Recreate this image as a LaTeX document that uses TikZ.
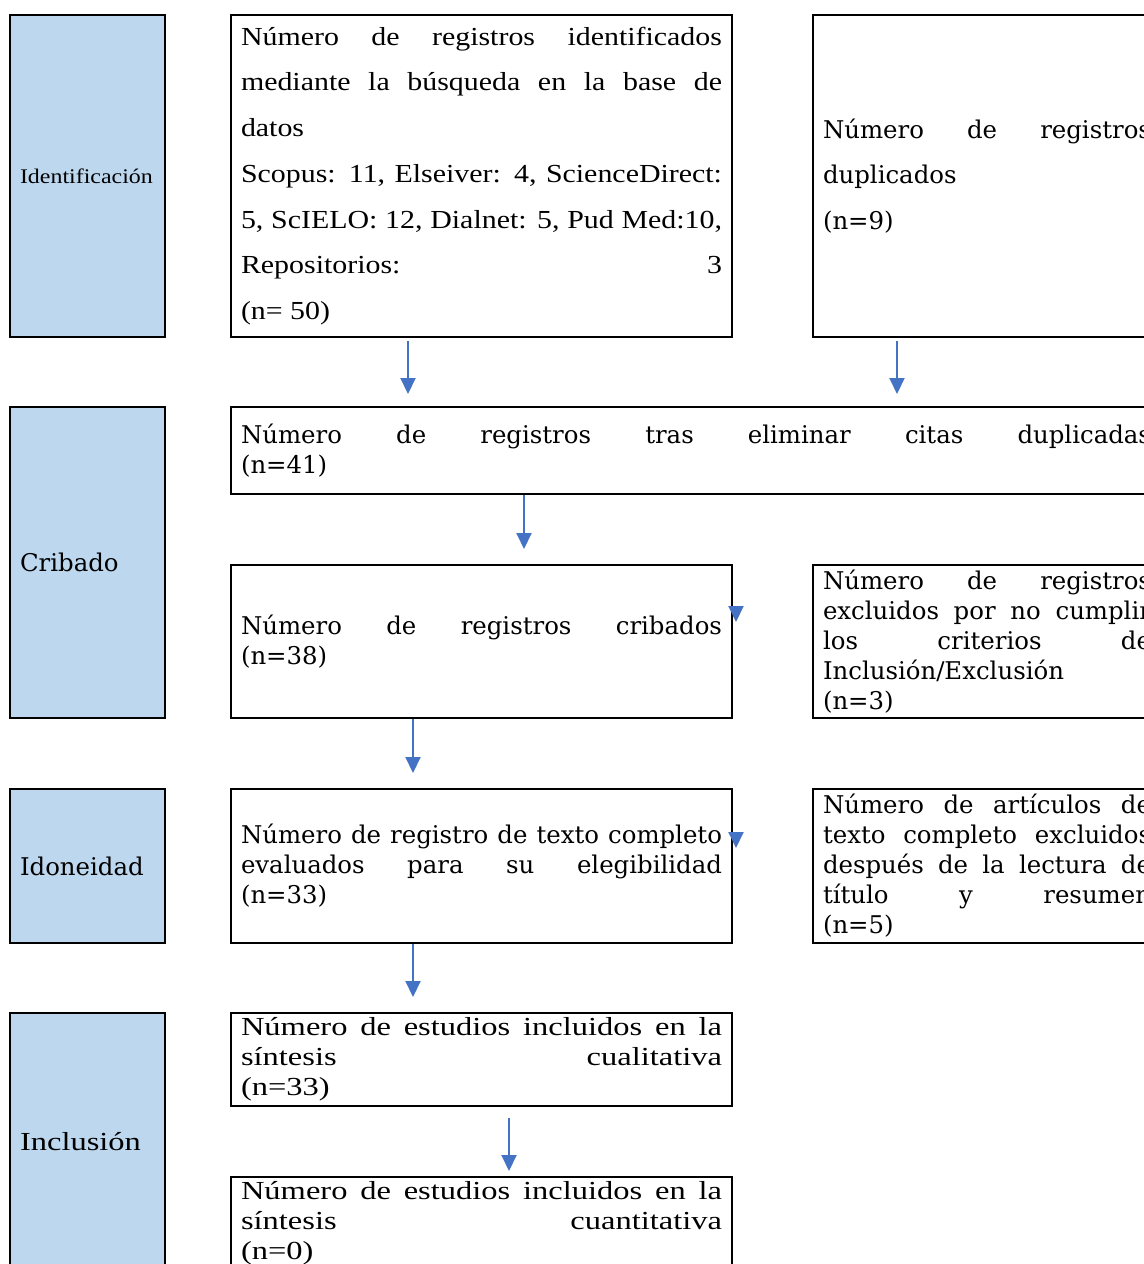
\documentclass[tikz,border=0pt]{standalone}
\usepackage{fontspec}
\setmainfont{DejaVu Serif}
\newfontfamily\narrowserif[FakeStretch=1.15]{Liberation Serif}
\newfontfamily\narrowseriflarge[FakeStretch=1.25]{Liberation Serif}
\usepackage{tikz}
\usetikzlibrary{arrows.meta,arrows}
\usetikzlibrary{positioning}

\setlength{\parindent}{0pt}
\hyphenpenalty=10000
\exhyphenpenalty=10000
\tolerance=9999
\hbadness=10000

\definecolor{phaseblue}{HTML}{BDD7EE}
\definecolor{arrowblue}{HTML}{4472C4}

\tikzset{
    phase/.style={draw, line width=1pt, fill=phaseblue, inner xsep=5pt, inner ysep=0pt, text width=67.5pt, align=left},
    stepbox/.style={draw, line width=1pt, fill=white, inner xsep=5pt, inner ysep=0pt, align=justify},
    flow/.style={draw=arrowblue, line width=1pt, -{Triangle[width=7.5pt,length=8pt]}},
    txtbook/.style={font=\fontsize{12.2}{15}\selectfont},
    txtbookdbl/.style={font=\fontsize{12.2}{22.85}\selectfont},
    txtcond/.style={font=\narrowseriflarge\fontsize{13}{15}\selectfont},
    txtconddbl/.style={font=\narrowserif\fontsize{13}{22.85}\selectfont}
}

\begin{document}
\begin{tikzpicture}[x=0.5pt,y=-0.5pt]

        \fill[white] (0,0) rectangle (1144,1264);
        \useasboundingbox (0,0) rectangle (1144,1264);
        \clip (0,0) rectangle (1144,1264);

        % fases
        \begin{scope}[every node/.style={phase}]
            \node[minimum height=161pt, font=\narrowserif\fontsize{10.4}{13}\selectfont] (ident) at (87.5,176) {Identificación\par\vspace{6pt}};
            \node[minimum height=155.5pt, txtbook] (crib) at (87.5,562.5) {Cribado};
            \node[minimum height=77pt, txtbook] (idon) at (87.5,866) {Idoneidad};
            \node[minimum height=129pt, txtcond] (incl) at (87.5,1142) {Inclusión};
        \end{scope}

        % columna central
        \begin{scope}[every node/.style={stepbox, text width=240.5pt}]
            \node[minimum height=161pt, txtconddbl] (busq) at (481.5,176)
                {Número de registros identificados\linebreak mediante la búsqueda en la base de\linebreak datos\newline Scopus: 11, Elseiver: 4, ScienceDirect:\linebreak 5, ScIELO: 12, Dialnet: 5, Pud Med:10,\linebreak Repositorios: 3\linebreak (n= 50)\par\vspace{4pt}};
            \node[minimum height=76.5pt, txtbook] (cribados) at (481.5,641.5)
                {Número de registros cribados\linebreak (n=38)};
            \node[minimum height=77pt, txtbook] (elegib) at (481.5,866)
                {Número de registro de texto completo\linebreak evaluados para su elegibilidad\linebreak (n=33)};
            \node[minimum height=46.5pt, txtcond] (cualit) at (481.5,1059.5)
                {Número de estudios incluidos en la\linebreak síntesis cualitativa\linebreak (n=33)};
            \node[minimum height=46.5pt, txtcond] (cuantit) at (481.5,1223.5)
                {Número de estudios incluidos en la\linebreak síntesis cuantitativa\linebreak (n=0)};
        \end{scope}

        % columna derecha
        \begin{scope}[every node/.style={stepbox, text width=164pt}]
            \node[minimum height=161pt, txtbookdbl] (dupl) at (987,176)
                {Número de registros\linebreak duplicados\newline (n=9)\par\vspace{6pt}};
            \node[minimum height=76.5pt, txtbook] (excl) at (987,641.5)
                {Número de registros\linebreak excluidos por no cumplir\linebreak los criterios de\linebreak Inclusión/Exclusión\newline (n=3)};
            \node[minimum height=77pt, txtbook] (artic) at (987,866)
                {Número de artículos de\linebreak texto completo excluidos\linebreak después de la lectura de\linebreak título y resumen\linebreak (n=5)};
        \end{scope}

        \node[stepbox, text width=455pt, minimum height=43.5pt, txtbook] (tras) at (696,450.5)
            {Número de registros tras eliminar citas duplicadas\linebreak (n=41)};

        % flechas
        \draw[flow, shorten <=1.5pt, shorten >=6pt] ([xshift=-36.75pt]busq.south) -- ([xshift=-36.75pt]busq.south |- tras.north);
        \draw[flow, shorten <=1.5pt, shorten >=6pt] ([xshift=-45pt]dupl.south) -- ([xshift=-45pt]dupl.south |- tras.north);
        \draw[flow, shorten >=7.5pt] ([xshift=21.25pt]cribados.north |- tras.south) -- ([xshift=21.25pt]cribados.north);
        \draw[flow, shorten >=7.5pt] ([xshift=-34.25pt]cribados.south) -- ([xshift=-34.25pt]elegib.north);
        \draw[flow, shorten >=7.5pt] ([xshift=-34.25pt]elegib.south) -- ([xshift=-34.25pt]cualit.north);
        \draw[flow, shorten <=5.5pt, shorten >=2.5pt] ([xshift=13.75pt]cualit.south) -- ([xshift=13.75pt]cuantit.north);
        \draw[flow] ([xshift=1.5pt,yshift=17.75pt]cribados.east) -- ([xshift=1.5pt,yshift=9.75pt]cribados.east);
        \draw[flow] ([xshift=1.5pt,yshift=17pt]elegib.east) -- ([xshift=1.5pt,yshift=9pt]elegib.east);

\end{tikzpicture}
\end{document}
